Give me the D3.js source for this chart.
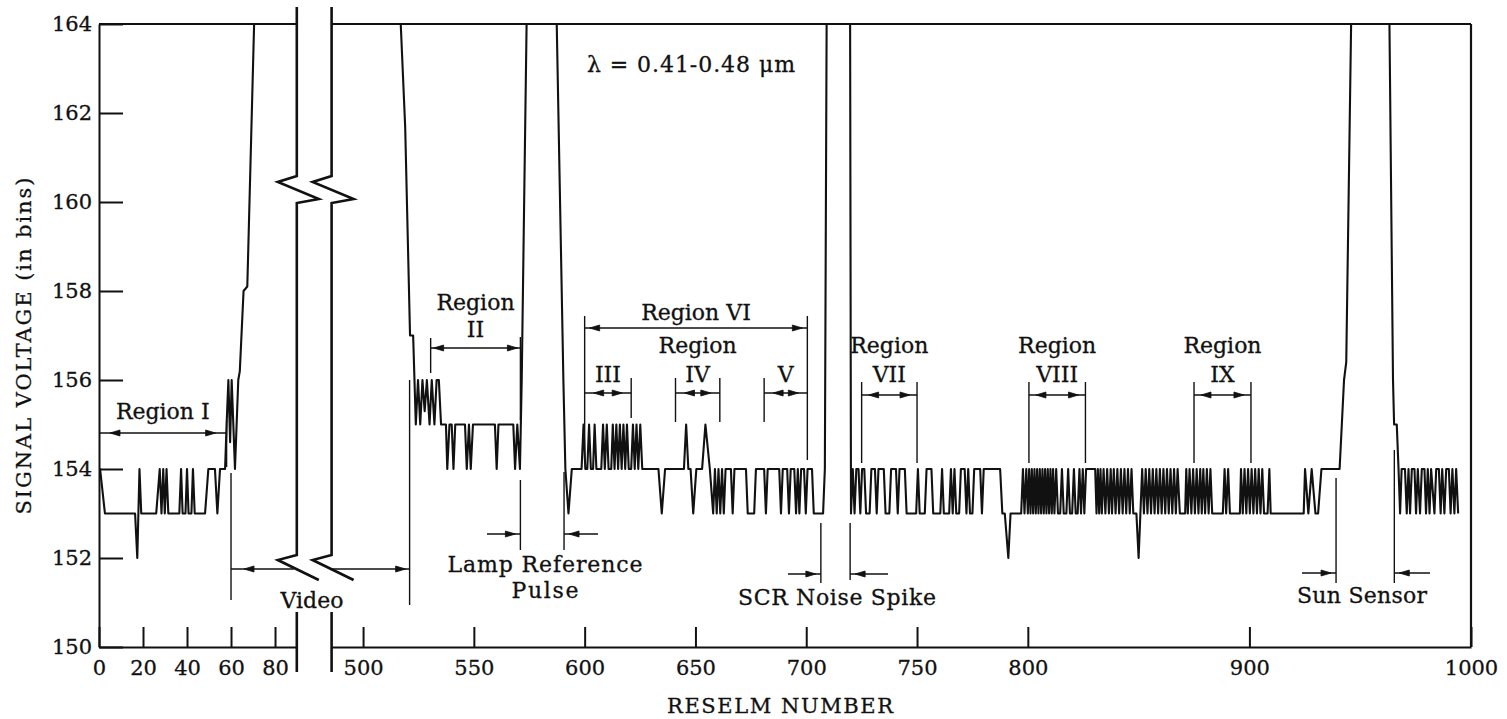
<!DOCTYPE html>
<html>
<head>
<meta charset="utf-8">
<script src="https://cdn.jsdelivr.net/npm/d3@7"></script>
<style>
  html, body { margin: 0; padding: 0; background: #fff; }
  svg { display: block; }
  text { font-family: 'DejaVu Serif', 'Liberation Serif', serif; fill: #111; stroke: #111; stroke-width: 0.3px; }
</style>
</head>
<body>
<div id="wrapper"></div>
<script>
'use strict';

//#region DATASET
// [reselm, signal in bins] vertices, 0-90 part
const leftSignal = [
  [0,154],[0.5,154],[2.7,153],[16.4,153],[17.4,152],[18.4,154],[19.2,153],[26,153],
  [27.6,154],[28.4,153],[29.2,154],[29.9,153],[30.7,154],[31.5,153],[36.5,153],[37.3,154],
  [38,153],[39.3,153],[40,154],[40.7,153],[42,153],[42.7,154],[43.5,153],[48.2,153],
  [49.7,154],[52.7,154],[53.8,153],[55,154],[57.3,154],[58,155],[58.8,156],[59.6,154.6],
  [60.3,156],[61.8,154],[63.3,156],[64,156.2],[65.7,158],[67.4,158.1],[70.5,164],[89.9,164]
];

// 486-1000 part
const rightSignal = [
  [485.8,164],[517,164],[519,161.7],[521.2,157],[522.6,157],[523.8,155],
  [524.8,156],[525.8,155],[526.8,156],[527.8,155.3],[528.8,156],[530,155],[531,156],[532.2,155],
  [533.2,156],[534.2,156],[535.2,155],
  [537.4,155],[538,154],[539,155],[540,155],[540.8,154],[541.6,155],
  [546,155],[546.8,154],[547.8,155],[548.6,154],[549.6,155],
  [559.5,155],[560.3,154],[561.1,155],
  [567.8,155],[568.6,154],[569.6,155],[570.8,154],[571.6,156],[573.8,164],
  [587.4,164],[590.4,156],[591.3,154],[592.7,153],[594.2,154],
  [598.6,154],[599.5,155],[600.3,154],[601.2,154],[602,155],[602.8,154],[603.8,154],[604.5,155],
  [605.3,154],[607.5,154],[608.3,155],[609.1,154],[610,155],[610.8,154],[612,154],[612.7,155],
  [613.5,154],[614.3,155],[615.1,154],[615.9,155],[616.7,154],[617.5,155],[618.3,154],[619.1,155],
  [619.9,154],[621,154],[621.8,155],[622.6,154],[623.4,155],[624.2,154],[625.1,155],[626,154],
  [633.3,154],[634.8,153],[636.3,154],
  [644.8,154],[645.8,155],[646.8,154],[647.8,154],[649,153],[650.4,154],[653,154],[654.5,155],
  [656.5,154],[658,153],[658.8,154],[659.6,153],[660.4,154],[661.2,153],[662,154],[662.8,153],
  [663.6,154],[666,154],[666.8,153],[667.6,154],[672.8,154],[673.6,153],[676.5,153],[677.3,154],
  [681,154],[681.8,153],[682.6,154],[687.8,154],[688.6,153],[689.4,154],[691.4,154],[692.2,153],
  [693,154],[694.6,154],[695.4,153],[696.2,154],[696.9,153],[697.7,154],[699,154],[699.8,153],
  [700.6,154],[702.6,154],[703.4,153],[707.6,153],[708.4,154],[709.2,164],
  [719.8,164],[720.2,153],
  [721,154],[721.8,153],[722.6,154],[723.6,154],[724.4,153],[725.2,154],[726.2,154],[727,153],
  [728.6,153],[729.4,154],[731,154],[731.8,153],[732.6,154],[735,154],[735.8,153],[737.5,153],
  [738.3,154],[740.5,154],[741.3,153],[742.1,154],[744.5,154],[745.3,153],[749.6,153],[750.4,154],
  [751.2,153],[753.5,153],[754.3,154],[756.5,154],[757.3,153],[760.5,153],[761.3,154],[762.1,153],
  [764.5,153],[765.3,154],[766.1,153],[766.9,154],[767.7,153],[769,153],[769.8,154],[771.5,154],
  [772.3,153],[773.1,154],[773.9,153],[775,153],[775.8,154],[778.5,154],[779.3,153],[780.1,154],
  [787.5,154],[788.5,153],[789.6,153],[791.2,152],[792.2,153],[797,153],
  [797.8,154],[798.5,153],[799.3,154],[800,153],[800.6,154],[801.2,153],[801.8,154],[802.4,153],
  [803,154],[803.6,153],[804.2,154],[804.8,153],[805.4,154],[806,153],[806.6,154],[807.2,153],
  [807.8,154],[808.4,153],[809,154],[809.6,153],[810.2,154],[810.8,153],[811.4,154],[812,153],
  [812.8,154],[813.6,153],[814.6,153],[815.4,154],[816.2,153],[817.4,153],[818.2,154],[819,153],
  [820,153],[820.8,154],[821.6,153],[822.5,153],[823.3,154],[824,153],[824.8,154],[825.5,153],
  [826.3,154],[830.4,154],[831,153],
  [831.6,154],[832.2,153],[832.8,154],[833.4,153],[834.2,154],[835,153],[835.8,154],[836.6,153],
  [837.4,154],[838,153],[838.8,154],[839.6,153],[840.4,154],[841.2,153],[842,154],[842.8,153],
  [843.6,154],[844.4,153],[845.2,154],[846,153],[846.8,154],[847.6,153],[849,153],[850,152],
  [850.8,153],[851.6,154],[852.4,153],[853.2,154],[854,153],[854.8,154],[855.6,153],[856.4,154],
  [857.2,153],[858,154],[858.8,153],[859.6,154],[860.4,153],[861.2,154],[862,153],[862.8,154],
  [863.6,153],[864.4,154],[865.2,153],[866,154],[866.8,153],[867.6,154],[868.6,153],
  [871,153],[871.5,154],[872.2,153],[873,154],[873.8,153],[874.6,154],[875.4,153],[876.2,154],
  [877,153],[877.8,154],[878.5,153],[879.2,154],[880,153],[880.8,154],[881.6,153],[882.4,154],
  [883.2,153],[888,153],[888.8,154],[889.5,153],[890.4,154],[891.2,153],[895.7,153],
  [896.2,154],[897,153],[897.8,154],[898.6,153],[899.4,154],[900.2,153],[901,154],[901.8,153],
  [902.6,154],[903.4,153],[904.2,154],[905,153],[905.8,154],[906.6,153],[908.2,153],[909,154],
  [909.6,153],[924.5,153],[925.1,154],[926.6,153],[928.1,154],[929.8,153],[931,153],[932.5,154],
  [940.7,154],[941.7,155],[942.7,156],[943.7,156.4],[945.9,164],
  [963.2,164],[964.8,156],[965.3,155],[966.5,155],[967.3,154],
  [968,153],[968.7,154],[970.2,154],[971,153],[971.8,154],[972.5,153],[973.3,154],[974.5,154],
  [975.2,153],[976,154],[977,153],[977.8,154],[979,154],[979.7,153],[980.5,154],[981.3,153],
  [982,154],[983.5,153],[984.3,154],[985.5,154],[986.3,153],[987,154],[988,153],[988.8,154],
  [990,154],[990.8,153],[991.6,154],[992.5,153],[993.3,154],[994.2,153]
];

const yTickValues = [150, 152, 154, 156, 158, 160, 162, 164];
const leftTickValues = [0, 20, 40, 60, 80];
const rightTickValues = [500, 550, 600, 650, 700, 750, 800, 900, 1000];

const regionLabels = [['Region I'], ['Region', 'II'], ['III'], ['Region', 'IV'], ['V'],
  ['Region VI'], ['Region', 'VII'], ['Region', 'VIII'], ['Region', 'IX']];
const regionStart = [0, 530.5, 600, 641, 681, 600, 725, 800.5, 875];
const regionEnd = [58, 571, 621, 661, 700.5, 700.5, 750, 826, 900.7];

const pulseLabels = [['Lamp Reference', 'Pulse'], ['SCR Noise Spike'], ['Sun Sensor']];
const pulseStart = [571, 706.6, 939.1];
const pulseEnd = [590.7, 719.8, 965.4];
const videoStart = 60;
const videoEnd = 521;
//#endregion DATASET

function drawChart () {
  //#region CHART DIMENSIONS
  const dimensions = { width: 1507, height: 719 };
  const plotTop = 24, plotBottom = 647;
  const leftEnd = 89.9, rightStart = 485.8;
  //#endregion

  //#region CREATE SCALES
  const y = d3.scaleLinear().domain([150, 164]).range([plotBottom, plotTop]);
  const xLeft = d3.scaleLinear().domain([0, leftEnd]).range([99, 296.8]);
  const xRight = d3.scaleLinear().domain([rightStart, 1000]).range([331.6, 1471]);
  const xPos = v => v < 300 ? xLeft(v) : xRight(v);
  //#endregion

  const svg = d3.select('#wrapper').append('svg')
    .attr('width', dimensions.width)
    .attr('height', dimensions.height);

  //#region DRAW PERIPHERALS
  const styleTicks = (g, size) => {
    g.selectAll('path, line').attr('stroke', '#111').attr('stroke-width', 2);
    g.selectAll('text').attr('font-size', size).attr('fill', '#111')
      .attr('font-family', "'DejaVu Serif', 'Liberation Serif', serif");
  };

  svg.append('g')
    .attr('transform', `translate(${xLeft(0)},0)`)
    .call(d3.axisLeft(y).tickValues(yTickValues).tickSize(-24).tickSizeOuter(0).tickPadding(7).tickFormat(d3.format('d')))
    .call(g => styleTicks(g, 21));

  const bottomAxis = scale => d3.axisBottom(scale).tickSize(-20).tickSizeOuter(0).tickPadding(13).tickFormat(d3.format('d'));
  svg.append('g')
    .attr('transform', `translate(0,${plotBottom})`)
    .call(bottomAxis(xLeft).tickValues(leftTickValues))
    .call(g => styleTicks(g, 21));
  svg.append('g')
    .attr('transform', `translate(0,${plotBottom})`)
    .call(bottomAxis(xRight).tickValues(rightTickValues))
    .call(g => styleTicks(g, 21));

  // top border and right border
  const frame = svg.append('g').attr('stroke', '#111').attr('stroke-width', 2.2).attr('fill', 'none');
  frame.append('line').attr('x1', xLeft(0)).attr('x2', xLeft(leftEnd)).attr('y1', y(164)).attr('y2', y(164));
  frame.append('line').attr('x1', xRight(rightStart)).attr('x2', xRight(1000)).attr('y1', y(164)).attr('y2', y(164));
  frame.append('line').attr('x1', xRight(1000)).attr('x2', xRight(1000)).attr('y1', y(164)).attr('y2', y(150));

  // axis break marks
  const breaks = svg.append('g').attr('stroke', '#111').attr('stroke-width', 2.6).attr('fill', 'none')
    .attr('stroke-linejoin', 'miter');
  [xLeft(leftEnd), xRight(rightStart)].forEach(x0 => {
    breaks.append('path').attr('d',
      `M${x0},7V176L${x0 - 19},182L${x0 + 22},199L${x0},203V555L${x0 - 19},560L${x0 + 22},580`);
    breaks.append('path').attr('d', `M${x0},612V672`);
  });
  //#endregion

  //#region DRAW DATA
  const trace = svg.append('g').attr('fill', 'none').attr('stroke', '#111')
    .attr('stroke-width', 2.1).attr('stroke-linejoin', 'round');
  trace.append('path').attr('d', d3.line().x(d => xLeft(d[0])).y(d => y(d[1]))(leftSignal));
  trace.append('path').attr('d', d3.line().x(d => xRight(d[0])).y(d => y(d[1]))(rightSignal));
  //#endregion

  //#region ANNOTATIONS
  const ann = svg.append('g').attr('stroke', '#111').attr('stroke-width', 1.4);
  const head = (tipX, yy, dir) => {
    const len = 10, hw = 3;
    ann.append('path')
      .attr('d', `M${tipX},${yy}L${tipX - dir * len},${yy - hw}L${tipX - dir * len},${yy + hw}Z`)
      .attr('fill', '#111').attr('stroke-width', 0.8);
  };
  const hline = (x1, x2, yy) => ann.append('line').attr('x1', x1).attr('x2', x2).attr('y1', yy).attr('y2', yy);
  const vline = (x, y1, y2) => ann.append('line').attr('x1', x).attr('x2', x).attr('y1', y1).attr('y2', y2);
  const label = (txt, x, yy, size, len) => {
    const t = svg.append('text').attr('x', x).attr('y', yy).attr('text-anchor', 'middle')
      .attr('font-size', size).text(txt);
    if (len) t.attr('textLength', len).attr('lengthAdjust', 'spacing');
    return t;
  };

  // arrow y, bar spans [top,bottom] (null = none), label baselines
  const regionLayout = [
    { ay: 433, barL: null, barR: [420, 467], lines: [419], inset: 11 },
    { ay: 348, barL: [338, 373], barR: [337, 420], lines: [310, 337], inset: 3 },
    { ay: 393, barL: null, barR: [378, 418], lines: [382], inset: 9 },
    { ay: 393, barL: [378, 422], barR: [378, 422], lines: [353, 382], inset: 9 },
    { ay: 393, barL: [378, 422], barR: null, lines: [382], inset: 9 },
    { ay: 328, barL: [316, 460], barR: [316, 460], lines: [320], inset: 5 },
    { ay: 395, barL: [382, 463], barR: [382, 463], lines: [353, 382], inset: 7 },
    { ay: 395, barL: [382, 463], barR: [382, 463], lines: [353, 382], inset: 7 },
    { ay: 395, barL: [382, 463], barR: [382, 463], lines: [353, 382], inset: 7 }
  ];

  regionLabels.forEach((lines, i) => {
    const L = regionLayout[i];
    const x1 = xPos(regionStart[i]), x2 = xPos(regionEnd[i]);
    hline(x1, x2, L.ay);
    head(x1 + L.inset, L.ay, -1);
    head(x2 - L.inset, L.ay, 1);
    if (L.barL) vline(x1, L.barL[0], L.barL[1]);
    if (L.barR) vline(x2, L.barR[0], L.barR[1]);
    const cx = (x1 + x2) / 2;
    lines.forEach((txt, j) => label(txt, cx, L.lines[j], 22));
  });

  // pulse markers: two arrows pointing in at the pulse edges
  const pulseLayout = [
    { ay: 534, tail: [487, 598], barL: [480, 550], barR: [472, 550], cx: 545, lines: [572, 598], len: [195, 67] },
    { ay: 574, tail: [788, 888], barL: [523, 583], barR: [523, 580], cx: 837, lines: [605], len: [198] },
    { ay: 573, tail: [1302, 1430], barL: [478, 583], barR: [450, 583], cx: 1362, lines: [603], len: [130] }
  ];
  pulseLabels.forEach((lines, i) => {
    const L = pulseLayout[i];
    const x1 = xRight(pulseStart[i]), x2 = xRight(pulseEnd[i]);
    vline(x1, L.barL[0], L.barL[1]);
    vline(x2, L.barR[0], L.barR[1]);
    hline(L.tail[0], x1, L.ay);
    hline(x2, L.tail[1], L.ay);
    head(x1 - 5, L.ay, 1);
    head(x2 + 5, L.ay, -1);
    lines.forEach((txt, j) => label(txt, L.cx, L.lines[j], 22, L.len[j]));
  });

  // video span, interrupted by the axis break
  const vx1 = xLeft(videoStart), vx2 = xRight(videoEnd), vy = 569;
  vline(vx1, 473, 600);
  vline(vx2, 380, 605);
  hline(vx1, xLeft(leftEnd) - 3, vy);
  hline(xRight(rightStart) - 1, vx2, vy);
  head(vx1 + 13, vy, -1);
  head(vx2 - 4, vy, 1);
  label('Video', 312, 608, 22, 63);

  label('λ = 0.41-0.48 μm', 691, 72, 22, 208);

  // axis titles
  label('RESELM NUMBER', 780, 713, 21, 226);
  svg.append('text')
    .attr('transform', 'translate(24,346) rotate(-90)')
    .attr('text-anchor', 'middle').attr('dominant-baseline', 'central')
    .attr('font-size', 21).attr('textLength', 337).attr('lengthAdjust', 'spacing')
    .text('SIGNAL VOLTAGE (in bins)');
  //#endregion
}

drawChart();
</script>
</body>
</html>
